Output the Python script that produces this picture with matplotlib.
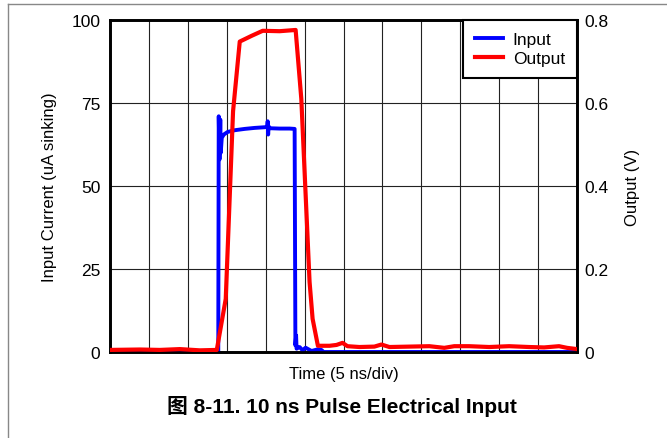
import matplotlib
matplotlib.use("Agg")
import matplotlib.pyplot as plt
from matplotlib.lines import Line2D
from matplotlib.ticker import FixedLocator, FuncFormatter

plt.rcParams['font.family'] = ['Liberation Sans', 'Noto Sans CJK SC']

# Input current trace (time in ns, current in uA)
input_t = [0.0, 13.91, 13.97, 14.07, 14.17, 14.23, 14.36, 14.62, 15.13, 16.03,
           17.31, 18.59, 19.87, 20.19, 20.26, 20.32, 20.38, 20.51, 21.79, 23.08,
           23.72, 23.82, 23.91, 23.97, 24.36, 24.74, 25.13, 25.51, 25.90, 26.67,
           27.18, 27.44, 60.0]
input_ua = [0.0, 0.0, 71.0, 58.0, 70.0, 60.0, 64.5, 65.5, 66.3, 66.8,
            67.2, 67.5, 67.7, 67.8, 69.5, 65.5, 68.0, 67.4, 67.3, 67.3,
            67.2, 2.0, 5.0, 1.0, 1.5, 0.5, 1.3, 0.8, 0.3, 0.8,
            0.6, 0.0, 0.0]

# Output voltage trace (time in ns, volts)
output_t = [0.0, 3.85, 6.41, 8.97, 11.54, 13.72, 14.87, 15.81, 16.67, 18.21,
            19.62, 21.79, 23.85, 24.58, 25.64, 26.03, 26.71, 28.21, 29.10, 29.87,
            30.51, 32.05, 33.97, 34.87, 35.90, 38.46, 41.03, 42.95, 44.23, 46.15,
            48.72, 51.28, 53.85, 55.77, 57.69, 58.72, 60.0]
output_v = [0.005, 0.006, 0.005, 0.007, 0.004, 0.005, 0.128, 0.58, 0.748, 0.762,
            0.774, 0.773, 0.776, 0.61, 0.169, 0.08, 0.015, 0.015, 0.017, 0.022,
            0.014, 0.012, 0.013, 0.018, 0.012, 0.013, 0.014, 0.010, 0.014, 0.014,
            0.012, 0.014, 0.012, 0.011, 0.014, 0.010, 0.007]

x_ticks = [0, 5, 10, 15, 20, 25, 30, 35, 40, 45, 50, 55, 60]
left_ticks = [0, 25, 50, 75, 100]
right_ticks = [0, 0.2, 0.4, 0.6, 0.8]

fig = plt.figure(figsize=(6.67, 4.39), dpi=100)
ax = fig.add_axes([110 / 667, 1 - 353 / 439, 467 / 667, 332 / 439])
ax2 = ax.twinx()

line_in, = ax.plot(input_t, input_ua, color='#0000ff', lw=2.8, label='Input',
                   solid_joinstyle='round', zorder=3)
line_out, = ax2.plot(output_t, output_v, color='#ff0000', lw=3.0, label='Output',
                     solid_joinstyle='round', zorder=3)

ax.set_xlim(0, 60)
ax.set_ylim(0, 100)
ax2.set_ylim(0, 0.8)

ax.xaxis.set_major_locator(FixedLocator(x_ticks))
ax.set_xticklabels([])
ax.yaxis.set_major_locator(FixedLocator(left_ticks))
ax2.yaxis.set_major_locator(FixedLocator(right_ticks))
ax2.yaxis.set_major_formatter(FuncFormatter(lambda v, p: '0' if v == 0 else f'{v:.1f}'))

ax.grid(True, color='#222222', lw=0.8)
ax.set_axisbelow(True)
ax.tick_params(axis='both', length=0, labelsize=12.5, pad=7)
ax2.tick_params(axis='y', length=0, labelsize=12.5, pad=5)

for a in (ax, ax2):
    for s in a.spines.values():
        s.set_linewidth(1.9)
        s.set_color('black')

ax.set_ylabel('Input Current (uA sinking)', fontsize=12, labelpad=10)
ax2.set_ylabel('Output (V)', fontsize=12, labelpad=12)
ax.set_xlabel('Time (5 ns/div)', fontsize=12, labelpad=3)

leg = ax2.legend(handles=[line_in, line_out], loc='upper right', borderaxespad=0,
                 fancybox=False, framealpha=1, edgecolor='black', fontsize=12.5,
                 handlelength=1.6, handletextpad=0.55, borderpad=0.7, labelspacing=0.2)
leg.get_frame().set_linewidth(1.5)

fig.text(342 / 667, 1 - 407 / 439, '图 8-11. 10 ns Pulse Electrical Input',
         ha='center', va='center', fontsize=15, fontweight='bold')

# outer frame
fig.add_artist(Line2D([8 / 667, 1], [1 - 5 / 439, 1 - 5 / 439], color='#888888', lw=1.0))
fig.add_artist(Line2D([8 / 667, 8 / 667], [0, 1 - 5 / 439], color='#888888', lw=1.0))

fig.savefig('out.png', dpi=100)
